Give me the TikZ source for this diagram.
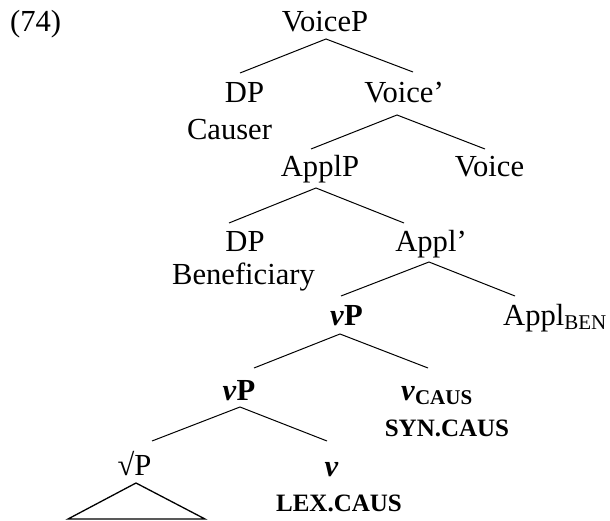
\documentclass[tikz,border=0pt]{standalone}
\usepackage{fontspec}
\setmainfont{Liberation Serif}
\newcommand{\subtxt}[1]{\raisebox{-4.5pt}{\fontsize{21}{24}\selectfont #1}}
\begin{document}
\begin{tikzpicture}[x=1pt,y=-1pt,
  lbl/.style={inner sep=0pt,anchor=base,font=\fontsize{30.6}{36}\selectfont},
  lblw/.style={lbl,anchor=base west},
  feat/.style={inner sep=0pt,anchor=base,font=\fontsize{25}{30}\selectfont\bfseries},
  branch/.style={line width=1pt},
  roof/.style={line width=1.3pt,line join=miter}]
\useasboundingbox (0,0) rectangle (610,521);

% example number
\node[lblw] (ex) at (10,32) {(74)};

% nodes of the tree
\node[lbl] (VoiceP) at (325,32) {VoiceP};
\node[lbl] (DPa) at (244.5,103) {DP};
\node[lbl] (causer) at (229.5,140) {Causer};
\node[lbl] (Voicebar) at (404,103) {Voice'};
\node[lbl] (ApplP) at (320,177) {ApplP};
\node[lbl] (Voice) at (489.5,177) {Voice};
\node[lbl] (DPb) at (245,252) {DP};
\node[lbl] (benef) at (243.5,284) {Beneficiary};
\node[lbl] (Applbar) at (431,252) {Appl'};
\node[lbl] (vPa) at (346.5,325) {\textbf{\textit{v}P}};
\node[lblw] (ApplBen) at (503,325) {Appl\subtxt{BEN}};
\node[lbl] (vPb) at (239,400) {\textbf{\textit{v}P}};
\node[lblw] (vCaus) at (401,400) {\textbf{\textit{v}}\subtxt{\bfseries CAUS}};
\node[feat] (syn) at (447,436) {SYN.CAUS};
\node[lbl] (rootP) at (134.5,475) {√P};
\node[lbl] (vlex) at (331.5,476) {\textbf{\textit{v}}};
\node[feat] (lex) at (339,511) {LEX.CAUS};

% branches
\draw[branch] ([shift={(-4.5,-30)}]DPa.base) -- ([shift={(1,7)}]VoiceP.base) -- ([shift={(9,-31)}]Voicebar.base);
\draw[branch] ([shift={(-9,-28)}]ApplP.base) -- ([shift={(-7,12)}]Voicebar.base) -- ([shift={(-4.5,-28)}]Voice.base);
\draw[branch] ([shift={(-16,-29)}]DPb.base) -- ([shift={(-4,11)}]ApplP.base) -- ([shift={(-27,-29)}]Applbar.base);
\draw[branch] ([shift={(-5.5,-29)}]vPa.base) -- ([shift={(-2,10)}]Applbar.base) -- ([shift={(12,-29)}]ApplBen.base west);
\draw[branch] ([shift={(15,-32)}]vPb.base) -- ([shift={(-6.5,9)}]vPa.base) -- ([shift={(27,-32)}]vCaus.base west);
\draw[branch] ([shift={(17.5,-34)}]rootP.base) -- ([shift={(1,7)}]vPb.base) -- ([shift={(-4.5,-35)}]vlex.base);

% roof under the root phrase
\draw[roof] ([shift={(1.5,8)}]rootP.base) -- ([shift={(-66.5,44)}]rootP.base) -- ([shift={(70.5,44)}]rootP.base) -- cycle;
\end{tikzpicture}
\end{document}
